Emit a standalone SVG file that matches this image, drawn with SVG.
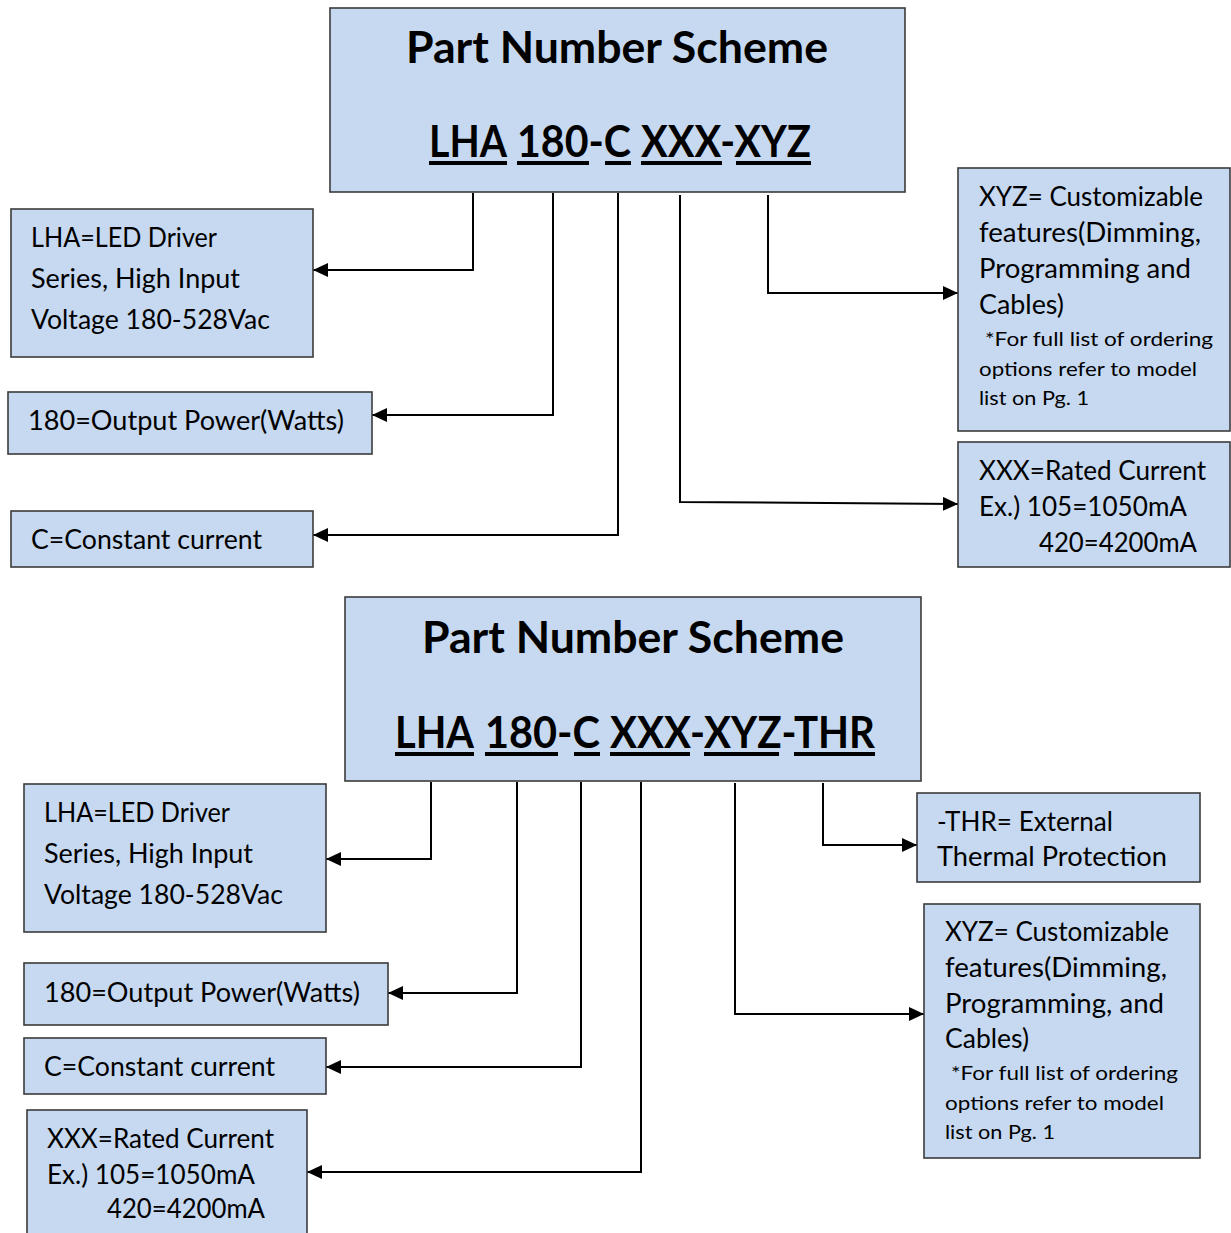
<svg xmlns="http://www.w3.org/2000/svg" width="1231" height="1233" viewBox="0 0 1231 1233">
<style>
.box{fill:#C6D9F1;stroke:#3b3b3b;stroke-width:1.6}
.t{font-family:Lato,Carlito,"Liberation Sans",sans-serif;font-size:26px;fill:#000}
.s{font-family:Lato,Carlito,"Liberation Sans",sans-serif;font-size:20px;fill:#000}
.h{font-family:Lato,Carlito,"Liberation Sans",sans-serif;font-size:43px;font-weight:bold;fill:#000}
.ul{stroke:#000;stroke-width:4}
.c{fill:none;stroke:#000;stroke-width:2}
</style>
<defs>
<marker id="ah" markerUnits="userSpaceOnUse" markerWidth="16" markerHeight="16" refX="15" refY="7" orient="auto">
<path d="M0,0 L15,7 L0,14 Z" fill="#000"/>
</marker>
</defs>
<rect width="1231" height="1233" fill="#fff"/>

<g id="connectors">
<path class="c" marker-end="url(#ah)" d="M473 193 V270 H313"/>
<path class="c" marker-end="url(#ah)" d="M553 193 V415 H372"/>
<path class="c" marker-end="url(#ah)" d="M618 193 V535 H313"/>
<path class="c" marker-end="url(#ah)" d="M680 195 V502 L958 504"/>
<path class="c" marker-end="url(#ah)" d="M768 195 V293 H958"/>
<path class="c" marker-end="url(#ah)" d="M431 782 V859 H326"/>
<path class="c" marker-end="url(#ah)" d="M517 782 V993 H388"/>
<path class="c" marker-end="url(#ah)" d="M581 782 V1067 H326"/>
<path class="c" marker-end="url(#ah)" d="M641 782 V1172 H307"/>
<path class="c" marker-end="url(#ah)" d="M735 783 V1014 H924"/>
<path class="c" marker-end="url(#ah)" d="M823 783 V845 H917"/>
</g>

<g id="title-top">
<rect class="box" x="330" y="8" width="575" height="184"/>
<text class="h" x="406" y="63" textLength="422" lengthAdjust="spacingAndGlyphs">Part Number Scheme</text>
<text class="h" x="429" y="157" textLength="78" lengthAdjust="spacingAndGlyphs">LHA</text>
<text class="h" x="517" y="157" textLength="114" lengthAdjust="spacingAndGlyphs">180-C</text>
<text class="h" x="641" y="157" textLength="170" lengthAdjust="spacingAndGlyphs">XXX-XYZ</text>
<path class="ul" d="M429 163 H507 M517 163 H589 M605 163 H631 M641 163 H722 M736 163 H811"/>
</g>

<g id="top-lha">
<rect class="box" x="11" y="209" width="302" height="148"/>
<text class="t" x="31" y="247" textLength="186" lengthAdjust="spacingAndGlyphs">LHA=LED Driver</text>
<text class="t" x="31" y="288" textLength="209" lengthAdjust="spacingAndGlyphs">Series, High Input</text>
<text class="t" x="31" y="329" textLength="239" lengthAdjust="spacingAndGlyphs">Voltage 180-528Vac</text>
</g>

<g id="top-180">
<rect class="box" x="8" y="392" width="364" height="62"/>
<text class="t" x="28" y="430" textLength="316" lengthAdjust="spacingAndGlyphs">180=Output Power(Watts)</text>
</g>

<g id="top-c">
<rect class="box" x="11" y="511" width="302" height="56"/>
<text class="t" x="31" y="549" textLength="231" lengthAdjust="spacingAndGlyphs">C=Constant current</text>
</g>

<g id="top-xyz">
<rect class="box" x="958" y="168" width="272" height="263"/>
<text class="t" x="979" y="206" textLength="224" lengthAdjust="spacingAndGlyphs">XYZ= Customizable</text>
<text class="t" x="979" y="242" textLength="222" lengthAdjust="spacingAndGlyphs">features(Dimming,</text>
<text class="t" x="979" y="278" textLength="212" lengthAdjust="spacingAndGlyphs">Programming and</text>
<text class="t" x="979" y="314" textLength="85" lengthAdjust="spacingAndGlyphs">Cables)</text>
<text class="s" x="985" y="346" textLength="228" lengthAdjust="spacingAndGlyphs">*For full list of ordering</text>
<text class="s" x="979" y="376" textLength="218" lengthAdjust="spacingAndGlyphs">options refer to model</text>
<text class="s" x="979" y="405" textLength="110" lengthAdjust="spacingAndGlyphs">list on Pg. 1</text>
</g>

<g id="top-xxx">
<rect class="box" x="958" y="442" width="272" height="125"/>
<text class="t" x="979" y="480" textLength="227" lengthAdjust="spacingAndGlyphs">XXX=Rated Current</text>
<text class="t" x="979" y="516" textLength="208" lengthAdjust="spacingAndGlyphs">Ex.) 105=1050mA</text>
<text class="t" x="1039" y="552" textLength="158" lengthAdjust="spacingAndGlyphs">420=4200mA</text>
</g>

<g id="title-bottom">
<rect class="box" x="345" y="597" width="576" height="184"/>
<text class="h" x="422" y="653" textLength="422" lengthAdjust="spacingAndGlyphs">Part Number Scheme</text>
<text class="h" x="395" y="748" textLength="79" lengthAdjust="spacingAndGlyphs">LHA</text>
<text class="h" x="485" y="748" textLength="115" lengthAdjust="spacingAndGlyphs">180-C</text>
<text class="h" x="610" y="748" textLength="265" lengthAdjust="spacingAndGlyphs">XXX-XYZ-THR</text>
<path class="ul" d="M395 754 H474 M485 754 H558 M574 754 H600 M610 754 H690 M704 754 H779 M794 754 H875"/>
</g>

<g id="bottom-lha">
<rect class="box" x="24" y="784" width="302" height="148"/>
<text class="t" x="44" y="822" textLength="186" lengthAdjust="spacingAndGlyphs">LHA=LED Driver</text>
<text class="t" x="44" y="863" textLength="209" lengthAdjust="spacingAndGlyphs">Series, High Input</text>
<text class="t" x="44" y="904" textLength="239" lengthAdjust="spacingAndGlyphs">Voltage 180-528Vac</text>
</g>

<g id="bottom-180">
<rect class="box" x="24" y="963" width="364" height="62"/>
<text class="t" x="44" y="1002" textLength="316" lengthAdjust="spacingAndGlyphs">180=Output Power(Watts)</text>
</g>

<g id="bottom-c">
<rect class="box" x="24" y="1038" width="302" height="56"/>
<text class="t" x="44" y="1076" textLength="231" lengthAdjust="spacingAndGlyphs">C=Constant current</text>
</g>

<g id="bottom-xxx">
<rect class="box" x="27" y="1110" width="280" height="135"/>
<text class="t" x="47" y="1148" textLength="227" lengthAdjust="spacingAndGlyphs">XXX=Rated Current</text>
<text class="t" x="47" y="1184" textLength="208" lengthAdjust="spacingAndGlyphs">Ex.) 105=1050mA</text>
<text class="t" x="107" y="1218" textLength="158" lengthAdjust="spacingAndGlyphs">420=4200mA</text>
</g>

<g id="bottom-thr">
<rect class="box" x="917" y="793" width="283" height="89"/>
<text class="t" x="937" y="831" textLength="176" lengthAdjust="spacingAndGlyphs">-THR= External</text>
<text class="t" x="937" y="866" textLength="230" lengthAdjust="spacingAndGlyphs">Thermal Protection</text>
</g>

<g id="bottom-xyz">
<rect class="box" x="924" y="904" width="276" height="254"/>
<text class="t" x="945" y="941" textLength="224" lengthAdjust="spacingAndGlyphs">XYZ= Customizable</text>
<text class="t" x="945" y="977" textLength="222" lengthAdjust="spacingAndGlyphs">features(Dimming,</text>
<text class="t" x="945" y="1013" textLength="219" lengthAdjust="spacingAndGlyphs">Programming, and</text>
<text class="t" x="945" y="1048" textLength="84" lengthAdjust="spacingAndGlyphs">Cables)</text>
<text class="s" x="951" y="1080" textLength="227" lengthAdjust="spacingAndGlyphs">*For full list of ordering</text>
<text class="s" x="945" y="1110" textLength="219" lengthAdjust="spacingAndGlyphs">options refer to model</text>
<text class="s" x="945" y="1139" textLength="110" lengthAdjust="spacingAndGlyphs">list on Pg. 1</text>
</g>
</svg>
